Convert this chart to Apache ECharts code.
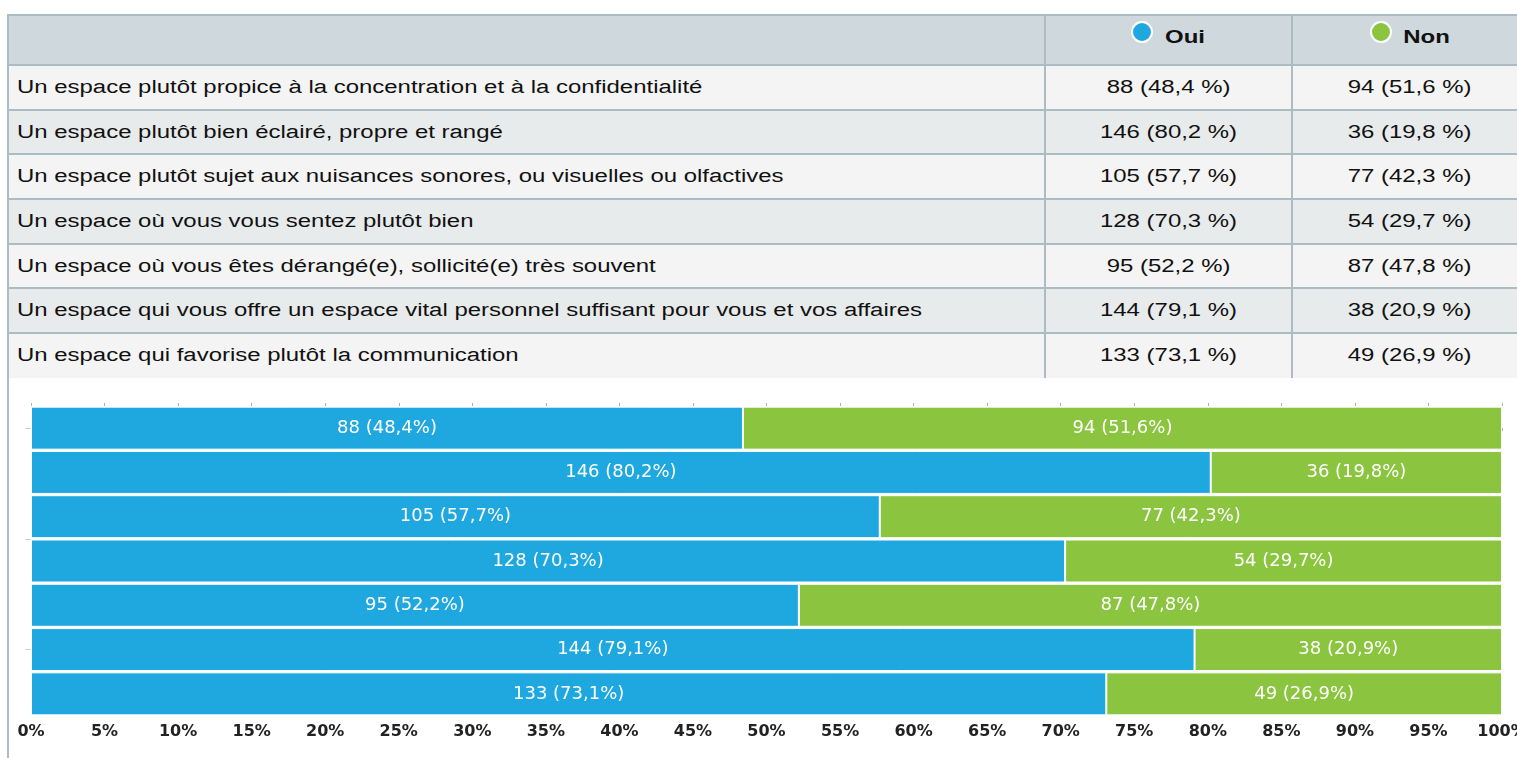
<!DOCTYPE html>
<html>
<head>
<meta charset="utf-8">
<script src="https://cdn.jsdelivr.net/npm/echarts@6/dist/echarts.min.js"></script>
<style>
  html, body { margin: 0; padding: 0; background: #fff; overflow: hidden; }
  body { width: 1517px; height: 758px; position: relative; font-family: "Liberation Sans", Arial, sans-serif; }
  #tbl { position: absolute; left: 7px; top: 14px; width: 1520px; border-collapse: collapse; table-layout: fixed; }
  #tbl td, #tbl th { border: 2px solid #acbcc3; font-size: 18px; color: #111; padding: 0 8px; white-space: nowrap; }
  #tbl thead tr { height: 50px; }
  #tbl tbody tr { height: 44.7px; }
  #tbl tr:last-child td { border-bottom: none; }
  #tbl th { background: #cfd8dc; font-weight: bold; padding-bottom: 8px; }
  #tbl th.hd { padding-right: 14px; }
  #tbl td.num { text-align: center; }
  #tbl tbody tr:nth-child(odd) td { background: #f4f4f4; }
  #tbl tbody tr:nth-child(even) td { background: #e8ebec; }
  .s { display: inline-block; transform: scaleX(1.33); transform-origin: left center; }
  .num .s, th .s { transform-origin: center center; }
  .dot { display: inline-block; width: 18px; height: 18px; border-radius: 50%; border: 2px solid #fff; vertical-align: -3px; margin-right: 17px; position: relative; top: -3px; }
  #wrap { position: absolute; left: 7px; top: 377px; width: 1510px; height: 381px; border-left: 2px solid #acbcc3; }
  #chart { width: 1508px; height: 381px; }
</style>
</head>
<body>
<table id="tbl">
  <colgroup><col style="width:1037px"><col style="width:247px"><col style="width:236px"></colgroup>
  <thead><tr><th></th><th class="hd" id="h0"></th><th class="hd" id="h1"></th></tr></thead>
  <tbody id="rows"></tbody>
</table>
<div id="wrap"><div id="chart"></div></div>
<script>
// categories (top to bottom)
const questions = [
    'Un espace plutôt propice à la concentration et à la confidentialité',
    'Un espace plutôt bien éclairé, propre et rangé',
    'Un espace plutôt sujet aux nuisances sonores, ou visuelles ou olfactives',
    'Un espace où vous vous sentez plutôt bien',
    'Un espace où vous êtes dérangé(e), sollicité(e) très souvent',
    'Un espace qui vous offre un espace vital personnel suffisant pour vous et vos affaires',
    'Un espace qui favorise plutôt la communication'
];
const seriesNames = ['Oui', 'Non'];
const ouiCount = [88, 146, 105, 128, 95, 144, 133];
const nonCount = [94, 36, 77, 54, 87, 38, 49];
const ouiPct = [48.4, 80.2, 57.7, 70.3, 52.2, 79.1, 73.1];
const nonPct = [51.6, 19.8, 42.3, 29.7, 47.8, 20.9, 26.9];
const colors = ['#1fa8e0', '#8bc53f'];

function fr(v) { return String(v).replace('.', ','); }
function sp(t) { return '<span class="s">' + t + '</span>'; }

// table
document.getElementById('h0').innerHTML = '<span class="dot" style="background:' + colors[0] + '"></span>' + sp(seriesNames[0]);
document.getElementById('h1').innerHTML = '<span class="dot" style="background:' + colors[1] + '"></span>' + sp(seriesNames[1]);
let html = '';
questions.forEach(function (q, i) {
    html += '<tr><td>' + sp(q) + '</td><td class="num">' + sp(ouiCount[i] + ' (' + fr(ouiPct[i].toFixed(1)) + ' %)') + '</td>' +
        '<td class="num">' + sp(nonCount[i] + ' (' + fr(nonPct[i].toFixed(1)) + ' %)') + '</td></tr>';
});
document.getElementById('rows').innerHTML = html;

// chart
let myChart = echarts.init(document.getElementById('chart'));
const counts = [ouiCount, nonCount];
const pcts = [ouiPct, nonPct];
let option = {
    animation: false,
    grid: { left: 22, right: 15, top: 29, bottom: 42, containLabel: false, outerBoundsMode: 'none' },
    xAxis: [{
        type: 'value', min: 0, max: 100, interval: 5, position: 'bottom',
        axisLine: { show: false },
        splitLine: { show: false },
        axisTick: { show: true, length: 3, lineStyle: { color: '#b0b0b0' } },
        axisLabel: { formatter: '{value}%', color: '#222', fontFamily: 'DejaVu Sans', fontWeight: 'bold', fontSize: 16, margin: 8 }
    }, {
        type: 'value', min: 0, max: 100, interval: 5, position: 'top',
        axisLine: { show: false },
        splitLine: { show: false },
        axisTick: { show: true, length: 3, lineStyle: { color: '#b0b0b0' } },
        axisLabel: { show: false }
    }],
    yAxis: [{
        type: 'category', inverse: true, data: questions,
        axisLine: { show: false }, axisTick: { show: false }, axisLabel: { show: false }
    }, {
        type: 'value', inverse: true, min: -0.5, max: 6.5, position: 'left', offset: 2,
        axisLine: { show: false }, splitLine: { show: false }, axisLabel: { show: false },
        axisTick: { show: true, length: 6, customValues: [0, 2.5, 5], lineStyle: { color: '#c5d3de', width: 1 } }
    }],
    series: seriesNames.map(function (name, s) {
        return {
            name: name, type: 'bar', stack: 'total', barWidth: 43,
            xAxisIndex: 0, yAxisIndex: 0,
            data: pcts[s],
            itemStyle: { color: colors[s], borderColor: '#fff', borderWidth: 1 },
            label: {
                show: true, position: 'inside', color: '#fff', fontFamily: 'DejaVu Sans', fontSize: 18,
                formatter: function (p) { return counts[s][p.dataIndex] + ' (' + fr(pcts[s][p.dataIndex].toFixed(1)) + '%)'; }
            }
        };
    })
};
myChart.setOption(option);
</script>
</body>
</html>
